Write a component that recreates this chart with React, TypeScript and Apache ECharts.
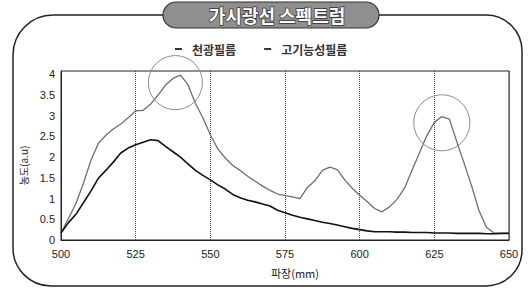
import React, { useEffect, useRef } from "react";
import * as echarts from "echarts";

const TITLE = "가시광선 스펙트럼";
const SERIES_NAMES = ["천광필름", "고기능성필름"];
const X_NAME = "파장(mm)";
const Y_NAME = "농도(a.u)";

// wavelength (nm), every 2.5 nm from 500 to 650
const wavelengths = [
  500, 502.5, 505, 507.5, 510, 512.5, 515, 517.5, 520, 522.5,
  525, 527.5, 530, 532.5, 535, 537.5, 540, 542.5, 545, 547.5,
  550, 552.5, 555, 557.5, 560, 562.5, 565, 567.5, 570, 572.5,
  575, 577.5, 580, 582.5, 585, 587.5, 590, 592.5, 595, 597.5,
  600, 602.5, 605, 607.5, 610, 612.5, 615, 617.5, 620, 622.5,
  625, 627.5, 630, 632.5, 635, 637.5, 640, 642.5, 645, 647.5,
  650,
];

// 천광필름 (grey line)
const cheongwang = [
  0.17, 0.52, 0.88, 1.37, 1.92, 2.33, 2.53, 2.68, 2.8, 2.95,
  3.12, 3.13, 3.28, 3.5, 3.74, 3.9, 3.98, 3.75, 3.3, 2.95,
  2.54, 2.2, 1.98, 1.8, 1.68, 1.54, 1.42, 1.3, 1.2, 1.11,
  1.07, 1.04, 1.0, 1.27, 1.43, 1.68, 1.76, 1.7, 1.45, 1.25,
  1.08, 0.93, 0.76, 0.68, 0.8, 0.98, 1.25, 1.68, 2.1, 2.52,
  2.84, 2.98, 2.92, 2.38, 1.85, 1.3, 0.7, 0.3, 0.17, 0.16,
  0.16,
];

// 고기능성필름 (black line)
const gogineung = [
  0.17, 0.42, 0.62, 0.9, 1.18, 1.49, 1.68, 1.88, 2.1, 2.22,
  2.3, 2.36, 2.42, 2.4, 2.26, 2.13, 2.0, 1.84, 1.68, 1.56,
  1.45, 1.33, 1.23, 1.1, 1.02, 0.96, 0.92, 0.87, 0.82, 0.72,
  0.66, 0.6, 0.55, 0.51, 0.47, 0.43, 0.4, 0.36, 0.32, 0.28,
  0.25, 0.22, 0.2, 0.2, 0.2, 0.19, 0.19, 0.18, 0.18, 0.18,
  0.17, 0.17, 0.17, 0.16, 0.16, 0.16, 0.16, 0.15, 0.15, 0.16,
  0.16,
];

// highlighted peaks (circled in the figure): [wavelength, value]
const peakCircles = [
  [538.3, 3.8],
  [627.5, 2.83],
];

const FONT = "'Noto Sans CJK KR', 'Noto Sans', sans-serif";

export default function App() {
  const ref = useRef<HTMLDivElement>(null);

  useEffect(() => {
    if (!ref.current) return;
    const chart = echarts.init(ref.current, null, { renderer: "svg" });
    const toPairs = (vals: number[]) => wavelengths.map((w, i) => [w, vals[i]]);

    chart.setOption({
      animation: false,
      backgroundColor: "#ffffff",
      textStyle: { fontFamily: FONT },
      graphic: [
        {
          type: "rect",
          z: 0,
          shape: { x: 13, y: 15, width: 509, height: 271, r: [40, 36, 36, 38] },
          style: { fill: "none", stroke: "#222", lineWidth: 1.5 },
        },
        {
          type: "rect",
          z: 10,
          shape: { x: 163, y: 2, width: 216, height: 26, r: 13 },
          style: { fill: "#8f8f8f", stroke: "#333", lineWidth: 1.2 },
        },
        {
          type: "text",
          z: 11,
          x: 277,
          y: 15,
          style: {
            text: TITLE,
            fill: "#ffffff",
            stroke: "#333",
            lineWidth: 1.5,
            font: `bold 18px ${FONT}`,
            align: "center",
            verticalAlign: "middle",
          },
        },
      ],
      legend: {
        left: 170,
        top: 38,
        itemWidth: 7,
        itemHeight: 2,
        itemGap: 28,
        icon: "rect",
        textStyle: {
          fontFamily: FONT,
          fontSize: 12,
          fontWeight: "bold",
          color: "#333",
          padding: [0, 0, 0, 5],
        },
        data: SERIES_NAMES.map((n) => ({ name: n, itemStyle: { color: "#333" } })),
      },
      grid: {
        left: 61,
        top: 71,
        width: 448,
        height: 169,
        show: true,
        borderColor: "#222",
        borderWidth: 1,
        backgroundColor: "transparent",
      },
      xAxis: {
        type: "value",
        min: 500,
        max: 650,
        interval: 25,
        name: X_NAME,
        nameLocation: "middle",
        nameGap: 27,
        nameTextStyle: { fontFamily: FONT, fontSize: 11, color: "#222", padding: [0, 0, 0, 20] },
        axisLine: { show: true, lineStyle: { color: "#222", width: 1 } },
        axisTick: { show: false },
        axisLabel: { fontFamily: "Liberation Sans, Arial, sans-serif", fontSize: 11, color: "#222", margin: 8 },
        splitLine: { show: true, lineStyle: { type: "dotted", color: "#444", width: 1 } },
      },
      yAxis: {
        type: "value",
        min: 0,
        max: 4.08,
        interval: 0.5,
        name: Y_NAME,
        nameLocation: "middle",
        nameGap: 26,
        nameRotate: 90,
        nameTextStyle: { fontFamily: FONT, fontSize: 10, color: "#222", padding: [0, 20, 0, 0] },
        axisLine: { show: true, lineStyle: { color: "#222", width: 1 } },
        axisTick: { show: false },
        axisLabel: {
          fontFamily: "Liberation Sans, Arial, sans-serif",
          fontSize: 11,
          color: "#222",
          margin: 6,
          formatter: (v: number) => (v > 4.001 ? "" : String(v)),
        },
        splitLine: { show: false },
      },
      series: [
        {
          name: SERIES_NAMES[0],
          type: "line",
          data: toPairs(cheongwang),
          showSymbol: false,
          lineStyle: { color: "#6e6e6e", width: 1.3 },
          itemStyle: { color: "#6e6e6e" },
          z: 3,
          markPoint: {
            symbol: "circle",
            silent: true,
            label: { show: false },
            itemStyle: { color: "rgba(0,0,0,0)", borderColor: "#8a8a8a", borderWidth: 1 },
            data: peakCircles.map((c, i) => ({ coord: c, symbolSize: i === 0 ? 54 : 56 })),
          },
        },
        {
          name: SERIES_NAMES[1],
          type: "line",
          data: toPairs(gogineung),
          showSymbol: false,
          lineStyle: { color: "#111", width: 1.6 },
          itemStyle: { color: "#111" },
          z: 4,
        },
      ],
    });

    return () => chart.dispose();
  }, []);

  return (
    <div
      ref={ref}
      style={{ position: "fixed", left: 0, top: 0, width: 532, height: 290 }}
    />
  );
}
